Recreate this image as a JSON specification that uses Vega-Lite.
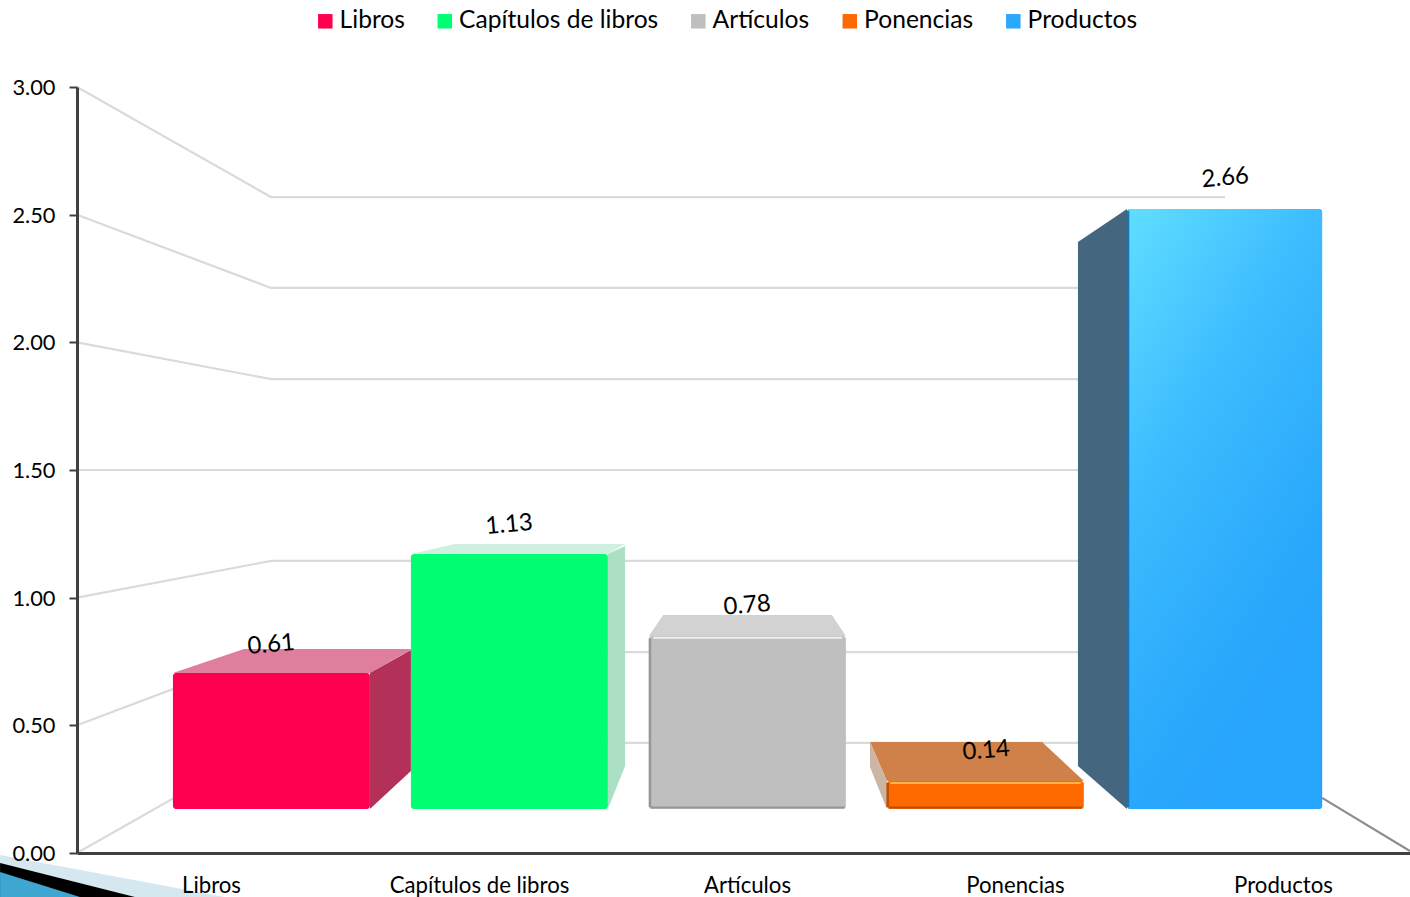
{
"$schema":"https://vega.github.io/schema/vega-lite/v6.json",
"width":1333,"height":766,
"autosize":{"type":"none"},
"padding":{"left":77,"top":87,"right":0,"bottom":44},
"background":"white",
"config":{"view":{"stroke":null},"font":"Lato"},
"datasets":{
"frentes":[
{"clase":"Libros","valor":0.61,"u0":0.358,"u1":1.093,"v0":0.172,"v1":0.705,"ue":0.724,"ve":0.823},
{"clase":"Capítulos de libros","valor":1.13,"u0":1.246,"u1":1.981,"v0":0.172,"v1":1.171,"ue":1.612,"ve":1.293},
{"clase":"Artículos","valor":0.78,"u0":2.134,"u1":2.869,"v0":0.172,"v1":0.85,"ue":2.5,"ve":0.976},
{"clase":"Ponencias","valor":0.14,"u0":3.022,"u1":3.757,"v0":0.172,"v1":0.282,"ue":3.392,"ve":0.408},
{"clase":"Productos","valor":2.66,"u0":3.918,"u1":4.646,"v0":0.172,"v1":2.522,"ue":4.284,"ve":2.651}
],
"techos":[
{"clase":"Libros techo","v":0.705,"u0":0.358,"u1":1.093},{"clase":"Libros techo","v":0.799,"u0":0.623,"u1":1.25},
{"clase":"Capítulos techo","v":1.171,"u0":1.246,"u1":1.981},{"clase":"Capítulos techo","v":1.21,"u0":1.41,"u1":2.045},
{"clase":"Artículos techo","v":0.85,"u0":2.134,"u1":2.869},{"clase":"Artículos techo","v":0.932,"u0":2.187,"u1":2.817},
{"clase":"Ponencias techo","v":0.282,"u0":3.022,"u1":3.757},{"clase":"Ponencias techo","v":0.435,"u0":2.959,"u1":3.601}
],
"lados":[
{"clase":"Libros lado","u":1.093,"v0":0.172,"v1":0.705},{"clase":"Libros lado","u":1.246,"v0":0.321,"v1":0.795},
{"clase":"Capítulos lado","u":1.981,"v0":0.172,"v1":1.171},{"clase":"Capítulos lado","u":2.045,"v0":0.341,"v1":1.202},
{"clase":"Ponencias lado","u":2.959,"v0":0.337,"v1":0.435},{"clase":"Ponencias lado","u":3.022,"v0":0.172,"v1":0.282},
{"clase":"Productos lado","u":3.735,"v0":0.341,"v1":2.393},{"clase":"Productos lado","u":3.918,"v0":0.172,"v1":2.522}
],
"rejilla":[
{"clase":"Rejilla","linea":"3.0","u":0,"v":3},{"clase":"Rejilla","linea":"3.0","u":0.724,"v":2.569},{"clase":"Rejilla","linea":"3.0","u":4.284,"v":2.569},
{"clase":"Rejilla","linea":"2.5","u":0,"v":2.5},{"clase":"Rejilla","linea":"2.5","u":0.724,"v":2.213},{"clase":"Rejilla","linea":"2.5","u":4.284,"v":2.213},
{"clase":"Rejilla","linea":"2.0","u":0,"v":2},{"clase":"Rejilla","linea":"2.0","u":0.724,"v":1.856},{"clase":"Rejilla","linea":"2.0","u":4.284,"v":1.856},
{"clase":"Rejilla","linea":"1.5","u":0,"v":1.5},{"clase":"Rejilla","linea":"1.5","u":0.724,"v":1.5},{"clase":"Rejilla","linea":"1.5","u":4.284,"v":1.5},
{"clase":"Rejilla","linea":"1.0","u":0,"v":1},{"clase":"Rejilla","linea":"1.0","u":0.724,"v":1.144},{"clase":"Rejilla","linea":"1.0","u":4.284,"v":1.144},
{"clase":"Rejilla","linea":"0.5","u":0,"v":0.5},{"clase":"Rejilla","linea":"0.5","u":0.724,"v":0.787},{"clase":"Rejilla","linea":"0.5","u":4.284,"v":0.787},
{"clase":"Rejilla","linea":"0.0","u":0,"v":0},{"clase":"Rejilla","linea":"0.0","u":0.724,"v":0.431},{"clase":"Rejilla","linea":"0.0","u":4.284,"v":0.431},
{"clase":"Suelo","linea":"s","u":4.646,"v":0.216},{"clase":"Suelo","linea":"s","u":4.974,"v":0.008}
],
"brillos":[
{"clase":"Artículos brillo","u0":2.15,"u1":2.855,"v":0.843},
{"clase":"Ponencias brillo","u0":3.035,"u1":3.745,"v":0.274},
{"clase":"Artículos borde","u0":2.14,"u1":2.865,"v":0.178},
{"clase":"Ponencias borde","u0":3.03,"u1":3.75,"v":0.178}
],
"aristas":[
{"clase":"Artículos borde","u":2.138,"v0":0.18,"v1":0.84},
{"clase":"Ponencias borde","u":3.025,"v0":0.18,"v1":0.275},
{"clase":"Productos arista","u":3.922,"v0":0.18,"v1":2.515}
],
"esquina":[
{"clase":"Esquina clara","u":-0.287,"v0":-0.172,"v1":-0.008},{"clase":"Esquina clara","u":0.552,"v0":-0.172,"v1":-0.172},
{"clase":"Esquina negra","u":-0.287,"v0":-0.172,"v1":-0.039},{"clase":"Esquina negra","u":0.216,"v0":-0.172,"v1":-0.172},
{"clase":"Esquina azul","u":-0.287,"v0":-0.172,"v1":-0.074},{"clase":"Esquina azul","u":0.011,"v0":-0.172,"v1":-0.172}
]
},
"encoding":{
"color":{"field":"clase","type":"nominal",
"scale":{
"domain":["Libros","Capítulos de libros","Artículos","Ponencias","Productos","Libros techo","Capítulos techo","Artículos techo","Ponencias techo","Libros lado","Capítulos lado","Ponencias lado","Productos lado","Rejilla","Suelo","Artículos brillo","Ponencias brillo","Artículos borde","Ponencias borde","Productos arista","Esquina clara","Esquina negra","Esquina azul"],
"range":["#FF0051","#00FF72","#BFBFBF","#FF6A00","#2AA8FB","#DF7F9D","#CFF0E0","#D2D2D2","#CF8149","#B33058","#ABE0C4","#CDB5A3","#44677F","#DADADA","#8C8C8C","#EFEFEF","#FFB340","#969696","#B84E08","#1C74B8","#D5E8F0","#000000","#3FA6D2"]},
"legend":{"values":["Libros","Capítulos de libros","Artículos","Ponencias","Productos"],"title":null,"orient":"none","legendX":236,"legendY":-78,"direction":"horizontal","columns":5,"gridAlign":"none","symbolType":"square","symbolSize":210,"symbolStrokeWidth":0,"labelFontSize":24.6,"labelFont":"Lato","labelColor":"#000000","labelOffset":2,"labelLimit":400,"columnPadding":27.5,"symbolOpacity":1}}
},
"layer":[
{"data":{"name":"rejilla"},"mark":{"type":"line","strokeWidth":2.2,"clip":false},
 "encoding":{"x":{"field":"u","type":"quantitative","scale":{"domain":[0,4.974],"nice":false,"zero":false},
   "axis":{"title":null,"values":[0.5,1.5,2.5,3.5,4.5],"labelExpr":"['Libros','Capítulos de libros','Artículos','Ponencias','Productos'][floor(datum.value)]","ticks":false,"grid":false,"domainColor":"#404040","domainWidth":3,"labelFontSize":22.2,"labelFont":"Lato","labelColor":"#000000","labelPadding":32,"labelBaseline":"middle","labelFlush":false,"zindex":1}},
  "y":{"field":"v","type":"quantitative","scale":{"domain":[0,3],"nice":false,"zero":false},
   "axis":{"title":null,"values":[0,0.5,1,1.5,2,2.5,3],"format":".2f","grid":false,"domainColor":"#404040","domainWidth":3,"tickColor":"#404040","tickWidth":2,"tickSize":8,"labelFontSize":21.8,"labelFont":"Lato","labelColor":"#000000","labelPadding":14,"labelOffset":0.5,"labelFlush":false,"zindex":1}},
  "detail":{"field":"linea"}}},
{"data":{"name":"esquina"},"mark":{"type":"area","orient":"vertical","clip":false},
 "encoding":{"x":{"field":"u","type":"quantitative"},"y":{"field":"v1","type":"quantitative"},"y2":{"field":"v0"}}},
{"data":{"name":"techos"},"mark":{"type":"area","orient":"horizontal"},
 "encoding":{"y":{"field":"v","type":"quantitative"},"x":{"field":"u0","type":"quantitative"},"x2":{"field":"u1"}}},
{"data":{"name":"lados"},"mark":{"type":"area","orient":"vertical"},
 "encoding":{"x":{"field":"u","type":"quantitative"},"y":{"field":"v1","type":"quantitative"},"y2":{"field":"v0"}}},
{"data":{"name":"frentes"},"mark":{"type":"rect","cornerRadius":3},
 "encoding":{"x":{"field":"u0","type":"quantitative"},"x2":{"field":"u1"},"y":{"field":"v0","type":"quantitative"},"y2":{"field":"v1"}}},
{"data":{"name":"frentes"},"transform":[{"filter":"datum.clase==='Productos'"}],"mark":{"type":"rect","cornerRadius":3},
 "encoding":{"x":{"field":"u0","type":"quantitative"},"x2":{"field":"u1"},"y":{"field":"v0","type":"quantitative"},"y2":{"field":"v1"},
  "color":{"value":{"gradient":"linear","x1":0,"y1":0,"x2":0.5,"y2":1,"stops":[{"offset":0,"color":"#60DEFF"},{"offset":0.4,"color":"#3DBCFF"},{"offset":0.8,"color":"#2AA8FB"},{"offset":1,"color":"#27A4FB"}]}}}},
{"data":{"name":"brillos"},"mark":{"type":"rule","strokeWidth":2},
 "encoding":{"x":{"field":"u0","type":"quantitative"},"x2":{"field":"u1"},"y":{"field":"v","type":"quantitative"}}},
{"data":{"name":"aristas"},"mark":{"type":"rule","strokeWidth":2.5},
 "encoding":{"x":{"field":"u","type":"quantitative"},"y":{"field":"v0","type":"quantitative"},"y2":{"field":"v1"}}},
{"data":{"name":"frentes"},"mark":{"type":"text","angle":355,"fontSize":24,"font":"Lato","align":"center","baseline":"middle","dy":2},
 "encoding":{"x":{"field":"ue","type":"quantitative"},"y":{"field":"ve","type":"quantitative"},"text":{"field":"valor","type":"quantitative","format":".2f"},"color":{"value":"#000000"}}}
]
}
